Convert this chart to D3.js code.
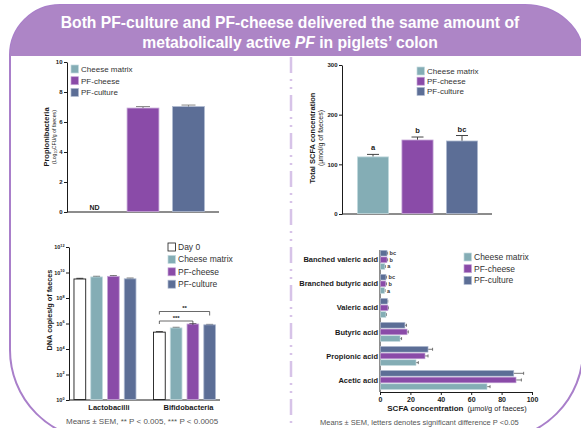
<!DOCTYPE html>
<html>
<head>
<meta charset="utf-8">
<script src="https://cdn.jsdelivr.net/npm/d3@7"></script>
<style>
  body { margin: 0; background: #fff; }
  svg { display: block; }
  text { font-family: "Liberation Sans", Arial, Helvetica, sans-serif; }
</style>
</head>
<body>
<svg id="chart" width="581" height="428"></svg>
<script>
// ---- data ----
const treatments = ["Cheese matrix", "PF-cheese", "PF-culture"];
const treatmentColors = ["#84adb5", "#8a4ba8", "#5c6e96"];
const treatmentStrokes = ["#c3dade", "#c6a6d8", "#aebad0"];

// Propionibacteria (Log10 CFU/g of faeces); cheese matrix not detected
const propioValues = [null, 6.93, 7.03];
const propioErrors = [null, 0.1, 0.1];
const propioTicks = [0, 2, 4, 6, 8, 10];

// Total SCFA (µmol/g of faeces)
const scfaTotalValues = [115, 149, 147];
const scfaTotalErrors = [5, 6, 11];
const scfaTotalLetters = ["a", "b", "bc"];
const scfaTotalTicks = [0, 100, 200, 300];

// DNA copies/g of faeces
const dnaGroups = ["Lactobacilli", "Bifidobacteria"];
const dnaSeries = ["Day 0", "Cheese matrix", "PF-cheese", "PF-culture"];
const dnaColors = ["#ffffff", "#84adb5", "#8a4ba8", "#5c6e96"];
const lactobacilliValues = [3.1e9, 4.5e9, 5.0e9, 3.2e9];
const lactobacilliErrors = [0.4e9, 0.5e9, 0.5e9, 0.4e9];
const bifidobacteriaValues = [2.1e5, 4.5e5, 9.1e5, 7.9e5];
const bifidobacteriaErrors = [0.2e5, 0.5e5, 0.8e5, 0.6e5];
const dnaTickExponents = [0, 2, 4, 6, 8, 10, 12];

// SCFA by acid (µmol/g of faeces)
const acids = ["Banched valeric acid", "Branched butyric acid", "Valeric acid",
               "Butyric acid", "Propionic acid", "Acetic acid"];
const acidCheeseMatrix = [3.2, 3.0, 3.9, 13.2, 23.7, 70.4];
const acidCheeseMatrixErr = [0.3, 0.3, 0.3, 1.0, 1.5, 2.0];
const acidPFCheese = [4.6, 3.8, 5.2, 17.8, 29.6, 89.5];
const acidPFCheeseErr = [0.4, 0.4, 0.3, 0.8, 2.0, 3.5];
const acidPFCulture = [4.6, 3.9, 4.8, 16.4, 31.6, 88.0];
const acidPFCultureErr = [0.4, 0.4, 0.3, 1.0, 3.0, 6.5];
const acidLetters = [["a", "b", "bc"], ["a", "b", "bc"], null, null, null, null];
const acidTicks = [0, 20, 40, 60, 80, 100];

// ---- drawing ----
const svg = d3.select("#chart");
const ink = "#1a1a1a";

// frame and banner
svg.append("path")
  .attr("d", "M10,55 A50,50 0 0 1 60,5 L525,5 A58,51 0 0 1 583,56 L583,350 A90,90 0 0 1 493,440 L100,440 A90,90 0 0 1 10,350 Z")
  .attr("fill", "#fff").attr("stroke", "#a97fca").attr("stroke-width", 2);
svg.append("path")
  .attr("d", "M10,56 L10,55 A50,50 0 0 1 60,5 L525,5 A58,51 0 0 1 583,56 Z")
  .attr("fill", "#ad85c6");

const title = svg.append("g").attr("fill", "#fff").attr("font-weight", "bold")
  .attr("font-size", 15.7).attr("text-anchor", "middle");
title.append("text").attr("x", 290).attr("y", 28)
  .text("Both PF-culture and PF-cheese delivered the same amount of");
const t2 = title.append("text").attr("x", 290).attr("y", 48);
t2.append("tspan").text("metabolically active ");
t2.append("tspan").attr("font-style", "italic").text("PF");
t2.append("tspan").text(" in piglets’ colon");

// vertical divider
svg.append("line").attr("x1", 291).attr("x2", 291).attr("y1", 57).attr("y2", 428)
  .attr("stroke", "#d7c3e8").attr("stroke-width", 2.5)
  .attr("stroke-dasharray", "16,6,2,6,2,6");

function styleAxis(g, size) {
  g.select(".domain").attr("stroke", ink).attr("stroke-width", 1);
  g.selectAll(".tick line").attr("stroke", ink);
  g.selectAll(".tick text").attr("fill", ink).attr("font-size", size)
    .attr("font-weight", "bold").attr("font-family", '"Liberation Sans", Arial, sans-serif');
}

function legend(g, x, y, step, names, colors, strokes, size) {
  names.forEach((n, i) => {
    g.append("rect").attr("x", x).attr("y", y + i * step - 4).attr("width", 7.5).attr("height", 8)
      .attr("fill", colors[i]).attr("stroke", strokes[i]).attr("stroke-width", strokes[i] === ink ? 0.8 : 0.7);
    g.append("text").attr("x", x + 10).attr("y", y + i * step + 3)
      .attr("font-size", size).attr("fill", "#333").text(n);
  });
}

// ---------- Propionibacteria ----------
{
  const g = svg.append("g");
  const x = d3.scaleBand().domain(treatments).range([74.75, 211.25]).paddingInner(0.3).paddingOuter(0.15);
  const y = d3.scaleLinear().domain([0, 10]).range([212, 62]);
  const ax = g.append("g").attr("transform", "translate(67,0)")
    .call(d3.axisLeft(y).tickValues(propioTicks).tickSize(3).tickSizeOuter(0).tickPadding(1.5));
  styleAxis(ax, 6);
  g.append("line").attr("x1", 67).attr("x2", 219).attr("y1", 212).attr("y2", 212).attr("stroke", ink);
  treatments.forEach((t, i) => {
    const cx = x(t) + x.bandwidth() / 2;
    if (propioValues[i] == null) {
      g.append("text").attr("x", cx - 3).attr("y", 210).attr("text-anchor", "middle")
        .attr("font-size", 7).attr("font-weight", "bold").attr("fill", ink).text("ND");
      return;
    }
    g.append("rect").attr("x", x(t)).attr("y", y(propioValues[i]))
      .attr("width", x.bandwidth()).attr("height", y(0) - y(propioValues[i]) - 0.5)
      .attr("fill", treatmentColors[i]).attr("stroke", treatmentStrokes[i]).attr("stroke-width", 0.8);
    const ye = y(propioValues[i] + propioErrors[i]);
    g.append("line").attr("x1", cx).attr("x2", cx).attr("y1", y(propioValues[i])).attr("y2", ye).attr("stroke", "#777");
    g.append("line").attr("x1", cx - 7).attr("x2", cx + 7).attr("y1", ye).attr("y2", ye).attr("stroke", "#888").attr("stroke-width", 1);
  });
  const lab = g.append("g").attr("transform", "translate(49,137) rotate(-90)").attr("text-anchor", "middle");
  lab.append("text").attr("font-size", 7.5).attr("font-weight", "bold").attr("fill", ink).text("Propionibacteria");
  const sub = lab.append("text").attr("y", 6.5).attr("font-size", 5.2).attr("fill", ink);
  sub.append("tspan").text("(Log");
  sub.append("tspan").attr("font-size", 3.8).attr("dy", 1.2).text("10");
  sub.append("tspan").attr("dy", -1.2).text("CFU/g of faeces)");
  legend(g, 71, 69, 11.7, treatments, treatmentColors, treatmentStrokes, 8);
}

// ---------- Total SCFA ----------
{
  const g = svg.append("g");
  const x = d3.scaleBand().domain(treatments).range([350.75, 484.25]).paddingInner(0.3).paddingOuter(0.15);
  const y = d3.scaleLinear().domain([0, 300]).range([214, 65]);
  const ax = g.append("g").attr("transform", "translate(342,0)")
    .call(d3.axisLeft(y).tickValues(scfaTotalTicks).tickSize(3).tickSizeOuter(0).tickPadding(1.5));
  styleAxis(ax, 6);
  g.append("line").attr("x1", 342).attr("x2", 492).attr("y1", 214).attr("y2", 214).attr("stroke", ink);
  treatments.forEach((t, i) => {
    const cx = x(t) + x.bandwidth() / 2;
    const v = scfaTotalValues[i];
    const ye = y(v + scfaTotalErrors[i]);
    g.append("line").attr("x1", cx).attr("x2", cx).attr("y1", y(v)).attr("y2", ye).attr("stroke", "#444");
    g.append("line").attr("x1", cx - 6).attr("x2", cx + 6).attr("y1", ye).attr("y2", ye).attr("stroke", "#444");
    g.append("rect").attr("x", x(t)).attr("y", y(v))
      .attr("width", x.bandwidth()).attr("height", y(0) - y(v) - 0.5)
      .attr("fill", treatmentColors[i]).attr("stroke", treatmentStrokes[i]).attr("stroke-width", 0.8);
    g.append("text").attr("x", cx).attr("y", ye - 4).attr("text-anchor", "middle")
      .attr("font-size", 7.5).attr("font-weight", "bold").attr("fill", ink).text(scfaTotalLetters[i]);
  });
  const lab = g.append("g").attr("transform", "translate(315,138) rotate(-90)").attr("text-anchor", "middle");
  lab.append("text").attr("font-size", 7.5).attr("font-weight", "bold").attr("fill", ink).text("Total SCFA concentration");
  lab.append("text").attr("y", 8).attr("font-size", 7).attr("fill", ink).text("(µmol/g of faeces)");
  legend(g, 417, 71, 10.2, treatments, treatmentColors, treatmentStrokes, 8);
}

// ---------- DNA copies ----------
{
  const g = svg.append("g");
  const x0 = d3.scaleBand().domain(dnaGroups).range([69, 220.5]).paddingInner(0.157).paddingOuter(0.031);
  const x1 = d3.scaleBand().domain(dnaSeries).range([0, x0.bandwidth()]).paddingInner(0.3).paddingOuter(0.15);
  const y = d3.scaleLog().domain([1, 1e12]).range([400, 247]);
  const ax = g.append("g").attr("transform", "translate(69,0)")
    .call(d3.axisLeft(y).tickValues(dnaTickExponents.map(e => Math.pow(10, e)))
      .tickSize(3).tickSizeOuter(0).tickPadding(1.5).tickFormat(() => ""));
  styleAxis(ax, 5.5);
  ax.selectAll(".tick text").each(function(d) {
    const t = d3.select(this);
    t.text(null);
    t.append("tspan").text("10");
    t.append("tspan").attr("dy", -2.5).attr("font-size", 3.8).text(Math.round(Math.log10(d)));
  });
  g.append("line").attr("x1", 69).attr("x2", 220).attr("y1", 400).attr("y2", 400).attr("stroke", ink);
  const rows = [lactobacilliValues, bifidobacteriaValues];
  const errs = [lactobacilliErrors, bifidobacteriaErrors];
  dnaGroups.forEach((grp, gi) => {
    dnaSeries.forEach((s, si) => {
      const v = rows[gi][si];
      const bx = x0(grp) + x1(s);
      const cx = bx + x1.bandwidth() / 2;
      const ye = y(v + errs[gi][si]);
      g.append("line").attr("x1", cx).attr("x2", cx).attr("y1", y(v)).attr("y2", ye).attr("stroke", "#444");
      g.append("line").attr("x1", cx - 3.5).attr("x2", cx + 3.5).attr("y1", ye).attr("y2", ye).attr("stroke", "#444");
      g.append("rect").attr("x", bx).attr("y", y(v))
        .attr("width", x1.bandwidth()).attr("height", y(1) - y(v) - 0.5)
        .attr("fill", dnaColors[si])
        .attr("stroke", si === 0 ? ink : treatmentStrokes[si - 1]).attr("stroke-width", si === 0 ? 0.9 : 0.8);
    });
    g.append("text").attr("x", x0(grp) + x0.bandwidth() / 2 + 4).attr("y", 410).attr("text-anchor", "middle")
      .attr("font-size", 7.5).attr("font-weight", "bold").attr("fill", ink).text(grp);
  });
  // significance brackets against Day 0 (Bifidobacteria)
  const bc = s => x0("Bifidobacteria") + x1(s) + x1.bandwidth() / 2;
  const brackets = [
    { to: "PF-culture", yy: 311.5, label: "**" },
    { to: "PF-cheese", yy: 321, label: "***" }
  ];
  brackets.forEach(b => {
    const xa = bc("Day 0"), xb = bc(b.to);
    g.append("path").attr("d", `M${xa},${b.yy + 3}V${b.yy}H${xb}V${b.yy + 4}`)
      .attr("fill", "none").attr("stroke", "#444").attr("stroke-width", 0.8);
    g.append("text").attr("x", (xa + xb) / 2).attr("y", b.yy - 1.5).attr("text-anchor", "middle")
      .attr("font-size", 6).attr("font-weight", "bold").attr("fill", ink).text(b.label);
  });
  g.append("text").attr("transform", "translate(52,310) rotate(-90)").attr("text-anchor", "middle")
    .attr("font-size", 7.3).attr("font-weight", "bold").attr("fill", ink).text("DNA copies/g of faeces");
  legend(g, 168, 247, 12.4, dnaSeries, dnaColors, [ink].concat(treatmentStrokes), 8.5);
  g.append("text").attr("x", 66).attr("y", 424).attr("font-size", 8).attr("fill", "#555")
    .text("Means ± SEM, ** P < 0.005, *** P < 0.0005");
}

// ---------- SCFA by acid ----------
{
  const g = svg.append("g");
  const seriesOrder = ["PF-culture", "PF-cheese", "Cheese matrix"];
  const seriesVals = { "Cheese matrix": acidCheeseMatrix, "PF-cheese": acidPFCheese, "PF-culture": acidPFCulture };
  const seriesErrs = { "Cheese matrix": acidCheeseMatrixErr, "PF-cheese": acidPFCheeseErr, "PF-culture": acidPFCultureErr };
  const y0 = d3.scaleBand().domain(acids).range([247.8, 392]);
  const y1 = d3.scaleBand().domain(seriesOrder).range([-9.5, 9.5]).paddingInner(0.15);
  const x = d3.scaleLinear().domain([0, 100]).range([380, 532]);
  const ax = g.append("g").attr("transform", "translate(0,392)")
    .call(d3.axisBottom(x).tickValues(acidTicks).tickSize(3).tickSizeOuter(0).tickPadding(2));
  styleAxis(ax, 7);
  g.append("line").attr("x1", 380).attr("x2", 380).attr("y1", 250).attr("y2", 392).attr("stroke", ink);
  acids.forEach((a, ai) => {
    const cy = y0(a) + y0.bandwidth() / 2;
    seriesOrder.forEach(s => {
      const ti = treatments.indexOf(s);
      const v = seriesVals[s][ai];
      const by = cy + y1(s);
      const my = by + y1.bandwidth() / 2;
      const xe = x(v + seriesErrs[s][ai]);
      g.append("line").attr("x1", x(v)).attr("x2", xe).attr("y1", my).attr("y2", my).attr("stroke", "#555").attr("stroke-width", 0.8);
      g.append("line").attr("x1", xe).attr("x2", xe).attr("y1", my - 1.5).attr("y2", my + 1.5).attr("stroke", "#555").attr("stroke-width", 0.8);
      g.append("rect").attr("x", x(0) + 0.5).attr("y", by)
        .attr("width", x(v) - x(0) - 0.5).attr("height", y1.bandwidth())
        .attr("fill", treatmentColors[ti]).attr("stroke", treatmentStrokes[ti]).attr("stroke-width", 0.6);
      if (acidLetters[ai]) {
        g.append("text").attr("x", xe + 2).attr("y", my + 2).attr("font-size", 5.5).attr("font-weight", "bold")
          .attr("fill", "#333").text(acidLetters[ai][ti]);
      }
    });
    g.append("text").attr("x", 378).attr("y", cy + 2.6).attr("text-anchor", "end")
      .attr("font-size", 7.5).attr("font-weight", "bold").attr("fill", ink).text(a);
  });
  const xl = g.append("text").attr("x", 457).attr("y", 411).attr("text-anchor", "middle").attr("fill", ink).attr("font-size", 8);
  xl.append("tspan").attr("font-weight", "bold").text("SCFA concentration");
  xl.append("tspan").attr("font-size", 7.4).attr("dx", 4).text("(µmol/g of faeces)");
  legend(g, 464, 257, 11.7, treatments, treatmentColors, treatmentStrokes, 8.5);
  g.append("text").attr("x", 320).attr("y", 425).attr("font-size", 7.5).attr("fill", "#555")
    .text("Means ± SEM, letters denotes significant difference P <0.05");
}
</script>
</body>
</html>
